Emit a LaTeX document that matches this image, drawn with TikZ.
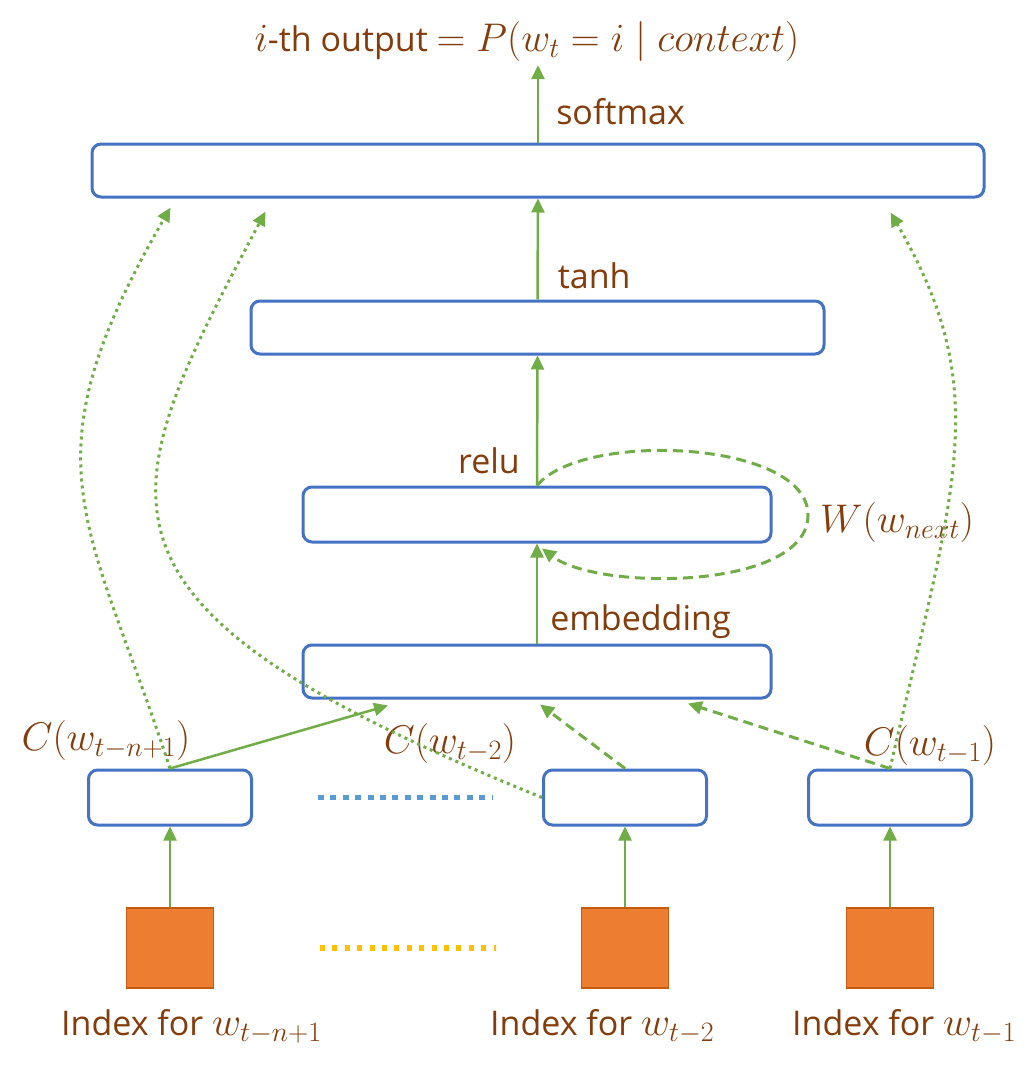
\RequirePackage{fix-cm}
\documentclass[tikz,border=0pt]{standalone}
\usepackage{fontspec}
\setmainfont{Open Sans}
\usetikzlibrary{arrows.meta,calc}
\definecolor{nnBlue}{HTML}{4472C4}
\definecolor{nnGreen}{HTML}{70AD47}
\definecolor{nnBrown}{HTML}{843C0C}
\definecolor{nnOrange}{HTML}{ED7D31}
\definecolor{nnOrangeDark}{HTML}{C55A11}
\definecolor{nnSky}{HTML}{5B9BD5}
\definecolor{nnGold}{HTML}{FFC000}
\newcommand{\mlab}[1]{{\fontsize{40}{46}\selectfont$#1$}}

\begin{document}
\begin{tikzpicture}[x=1pt,y=1pt,font=\fontsize{34}{40}\selectfont,
        every node/.style={inner sep=0pt},
        layer/.style={draw=nnBlue,line width=3pt,rounded corners=9pt,minimum height=53pt},
        index/.style={draw=nnOrangeDark,line width=1.5pt,fill=nnOrange,minimum width=87pt,minimum height=80pt},
        lbl/.style={text=nnBrown},
        flow/.style={draw=nnGreen,line width=2.5pt,-{Triangle[length=14pt,width=13pt]}},
        share/.style={flow,line width=3pt,dash pattern=on 10pt off 6pt},
        skip/.style={flow,line width=3pt,dash pattern=on 3pt off 4pt}]
  \useasboundingbox (0,0) rectangle (1034,-1070);
  % layers
  \node[layer,minimum width=892pt] (out) at (538,-170.5) {};
  \node[layer,minimum width=573pt] (hid) at (537.5,-327.5) {};
  \node[layer,minimum width=468pt,minimum height=55pt] (rel) at (537,-514.5) {};
  \node[layer,minimum width=468pt] (emb) at (537,-671.5) {};
  % word vectors and indices
  \node[layer,minimum width=163pt,minimum height=55pt] (cA) at (170,-797.5) {};
  \node[layer,minimum width=163pt,minimum height=55pt] (cB) at (625,-797.5) {};
  \node[layer,minimum width=163pt,minimum height=55pt] (cC) at (890,-797.5) {};
  \node[index] (sqA) at (170,-948) {};
  \node[index] (sqB) at (625,-948) {};
  \node[index] (sqC) at (890,-948) {};
  \draw[nnSky,line width=5pt,dash pattern=on 6pt off 6.4pt] (318,-797) -- (492,-797);
  \draw[nnGold,line width=6pt,dash pattern=on 5pt off 7.4pt] (320,-948) -- (496,-948);
  % texts
  \node[lbl] (tt) at (527,-42) {\mlab{i}-th output \mlab{= P(w_t = i \mid context)}};
  \node[lbl,anchor=west] (ixA) at (61,-1027) {Index for \mlab{w_{t-n+1}}};
  \node[lbl,anchor=west] (ixB) at (490,-1027) {Index for \mlab{w_{t-2}}};
  \node[lbl,anchor=west] (ixC) at (792,-1027) {Index for \mlab{w_{t-1}}};
  \node[lbl] (lcA) at (106,-740) {\mlab{C(w_{t-n+1})}};
  \node[lbl] (lcB) at (450,-743) {\mlab{C(w_{t-2})}};
  \node[lbl] (lcC) at (930,-745) {\mlab{C(w_{t-1})}};
  % connections
  \foreach \s/\c in {sqA/cA,sqB/cB,sqC/cC}
    \draw[flow] (\s.north) -- (\c.south);
  \draw[flow] (cA.north) -- ($(emb.south)+(-149,-6)$);
  \draw[share] (cB.north) -- ($(emb.south)+(3,-5)$);
  \draw[share] (cC.north) -- ($(emb.south)+(151,-4)$);
  \draw[flow] (emb.north) -- node[lbl,pos=0.22,right=12pt]{embedding} (rel.south);
  \draw[flow] (rel.north) -- node[lbl,pos=0.19,left=16pt]{relu} (hid.south);
  \draw[flow] (hid.north) -- node[lbl,pos=0.24,right=19pt]{tanh} (out.south);
  \draw[flow,shorten >=3pt] (out.north) -- node[lbl,pos=0.39,right=17pt]{softmax} (out.north |- tt.south);
  % shared weights loop
  \coordinate (wr) at (808,-515);
  \draw[share] (rel.north) .. controls +(45,55) and +(0,75) .. (wr)
    .. controls +(0,-75) and +(57,-43) .. ($(rel.south)+(5,-5)$);
  \node[lbl,anchor=west] (lw) at (820,-522) {\mlab{W(w_{next})}};
  % direct connections
  \draw[skip] (cA.north) .. controls +(-82,252) and +(-149,-258) .. ($(out.south west)+(80,-9)$);
  \draw[skip] (cB.west) .. controls +(-482,195) and +(-155,-292) .. ($(out.south west)+(175,-13)$);
  \draw[skip] (cC.north) .. controls +(66,286) and +(103,-178) .. ($(out.south east)+(-95,-14)$);
\end{tikzpicture}
\end{document}
